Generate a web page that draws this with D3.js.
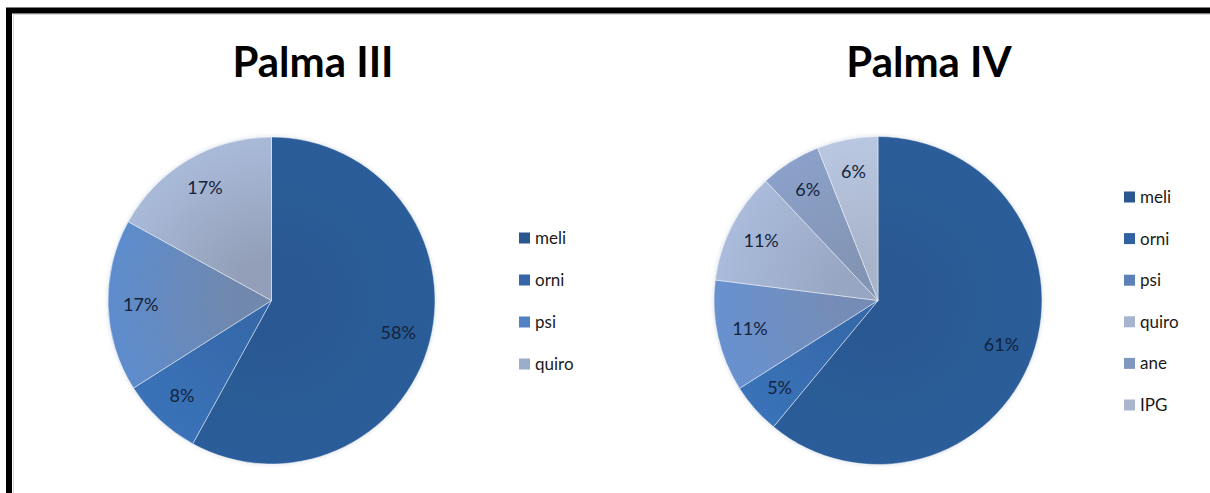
<!DOCTYPE html>
<html>
<head>
<meta charset="utf-8">
<script src="https://cdn.jsdelivr.net/npm/d3@7"></script>
<style>
  html, body { margin: 0; padding: 0; background: #fff; }
  svg { display: block; }
</style>
</head>
<body>
<svg id="chart" width="1210" height="493"></svg>
<script>
// Species share per site
const categoriesIII = ["meli", "orni", "psi", "quiro"];
const valuesIII = [58, 8, 17, 17];

const categoriesIV = ["meli", "orni", "psi", "quiro", "ane", "IPG"];
const valuesIV = [61, 5, 11, 11, 6, 6];

const titles = ["Palma III", "Palma IV"];

// Slice colours: rim tone and the duller tone towards the centre
const rimIII = ["#2c5d99", "#3a72b8", "#5d8ccd", "#a9bad9"];
const coreIII = ["#2b5993", "#3569aa", "#7088ae", "#939fb8"];
const keyIII = ["#2b5791", "#3466a9", "#5282c2", "#9caccb"];

const rimIV = ["#2c5d99", "#3a72b8", "#6891d0", "#aabbdb", "#8ba1c9", "#b9c7e1"];
const coreIV = ["#2b5993", "#3569aa", "#758db6", "#97a6c2", "#8395b5", "#a8b4ca"];
const keyIV = ["#2b5791", "#3061a2", "#5d80b6", "#a7b4cf", "#8097c0", "#a9b6cd"];

const svg = d3.select("#chart");
const defs = svg.append("defs");

// soft halo round each pie
const halo = defs.append("filter").attr("id", "halo")
  .attr("x", "-10%").attr("y", "-10%").attr("width", "120%").attr("height", "120%");
halo.append("feGaussianBlur").attr("in", "SourceAlpha").attr("stdDeviation", 2.2).attr("result", "b");
halo.append("feFlood").attr("flood-color", "#9fb0c8").attr("flood-opacity", 0.45);
halo.append("feComposite").attr("in2", "b").attr("operator", "in").attr("result", "s");
const hm = halo.append("feMerge");
hm.append("feMergeNode").attr("in", "s");
hm.append("feMergeNode").attr("in", "SourceGraphic");

// frame: heavy black rule along the top and left, faint inner rule
svg.append("path")
  .attr("d", d3.line()([[13.5, 520], [13.5, 14.5], [1230, 14.5]]))
  .attr("fill", "none").attr("stroke", "#d6d6d6").attr("stroke-width", 1);
svg.append("path")
  .attr("d", d3.line()([[9, 520], [9, 10.5], [1230, 10.5]]))
  .attr("fill", "none").attr("stroke", "#000").attr("stroke-width", 6);

const panels = [
  { id: "p3", cats: categoriesIII, vals: valuesIII, rim: rimIII, core: coreIII, key: keyIII,
    title: titles[0], cx: 271.5, cy: 300.5, r: 163.5, titleX: 313, legX: 519, legY: 238, legStep: 42 },
  { id: "p4", cats: categoriesIV, vals: valuesIV, rim: rimIV, core: coreIV, key: keyIV,
    title: titles[1], cx: 878, cy: 300.5, r: 164, titleX: 929, legX: 1124, legY: 197, legStep: 41.6 }
];

const pie = d3.pie().sort(null).value(d => d);
const font = "Lato, 'Open Sans', sans-serif";

panels.forEach(p => {
  const g = svg.append("g");

  g.append("text")
    .attr("x", p.titleX).attr("y", 77)
    .attr("text-anchor", "middle")
    .attr("font-family", font)
    .attr("font-weight", 700)
    .attr("font-size", 42)
    .attr("fill", "#000")
    .text(p.title);

  const color = d3.scaleOrdinal().domain(p.cats).range(p.rim);
  const inner = d3.scaleOrdinal().domain(p.cats).range(p.core);
  const keyColor = d3.scaleOrdinal().domain(p.cats).range(p.key);

  // radial shading per slice, centred on the pie
  p.cats.forEach((c, i) => {
    const grad = defs.append("radialGradient")
      .attr("id", `${p.id}-g${i}`)
      .attr("gradientUnits", "userSpaceOnUse")
      .attr("cx", 0).attr("cy", 0).attr("r", p.r)
      .attr("fx", 0).attr("fy", 0);
    grad.append("stop").attr("offset", 0).attr("stop-color", inner(c));
    grad.append("stop").attr("offset", 0.25).attr("stop-color", inner(c));
    grad.append("stop").attr("offset", 1).attr("stop-color", color(c));
  });

  const arcs = pie(p.vals);
  const arc = d3.arc().innerRadius(0).outerRadius(p.r);
  const labelArc = d3.arc().innerRadius(p.r * 0.8).outerRadius(p.r * 0.8);

  const pg = g.append("g").attr("transform", `translate(${p.cx},${p.cy})`);
  const slices = pg.append("g").attr("filter", "url(#halo)");
  slices.selectAll("path").data(arcs).join("path")
    .attr("d", arc)
    .attr("fill", (d, i) => `url(#${p.id}-g${i})`)
    .attr("stroke", "rgba(255,255,255,0.45)")
    .attr("stroke-width", 1);

  pg.selectAll("text.lbl").data(arcs).join("text")
    .attr("class", "lbl")
    .attr("transform", d => `translate(${labelArc.centroid(d)})`)
    .attr("text-anchor", "middle")
    .attr("dy", "0.35em")
    .attr("font-family", font)
    .attr("font-size", 18)
    .attr("fill", "#14233c")
    .text(d => d.data + "%");

  const leg = g.append("g");
  const items = leg.selectAll("g").data(p.cats).join("g")
    .attr("transform", (d, i) => `translate(${p.legX},${p.legY + i * p.legStep})`);
  items.append("rect")
    .attr("x", 0).attr("y", -5.5).attr("width", 11).attr("height", 11)
    .attr("fill", d => keyColor(d));
  items.append("text")
    .attr("x", 16).attr("dy", "0.35em")
    .attr("font-family", font)
    .attr("font-size", 17)
    .attr("fill", "#1a1a1a")
    .text(d => d);
});
</script>
</body>
</html>
